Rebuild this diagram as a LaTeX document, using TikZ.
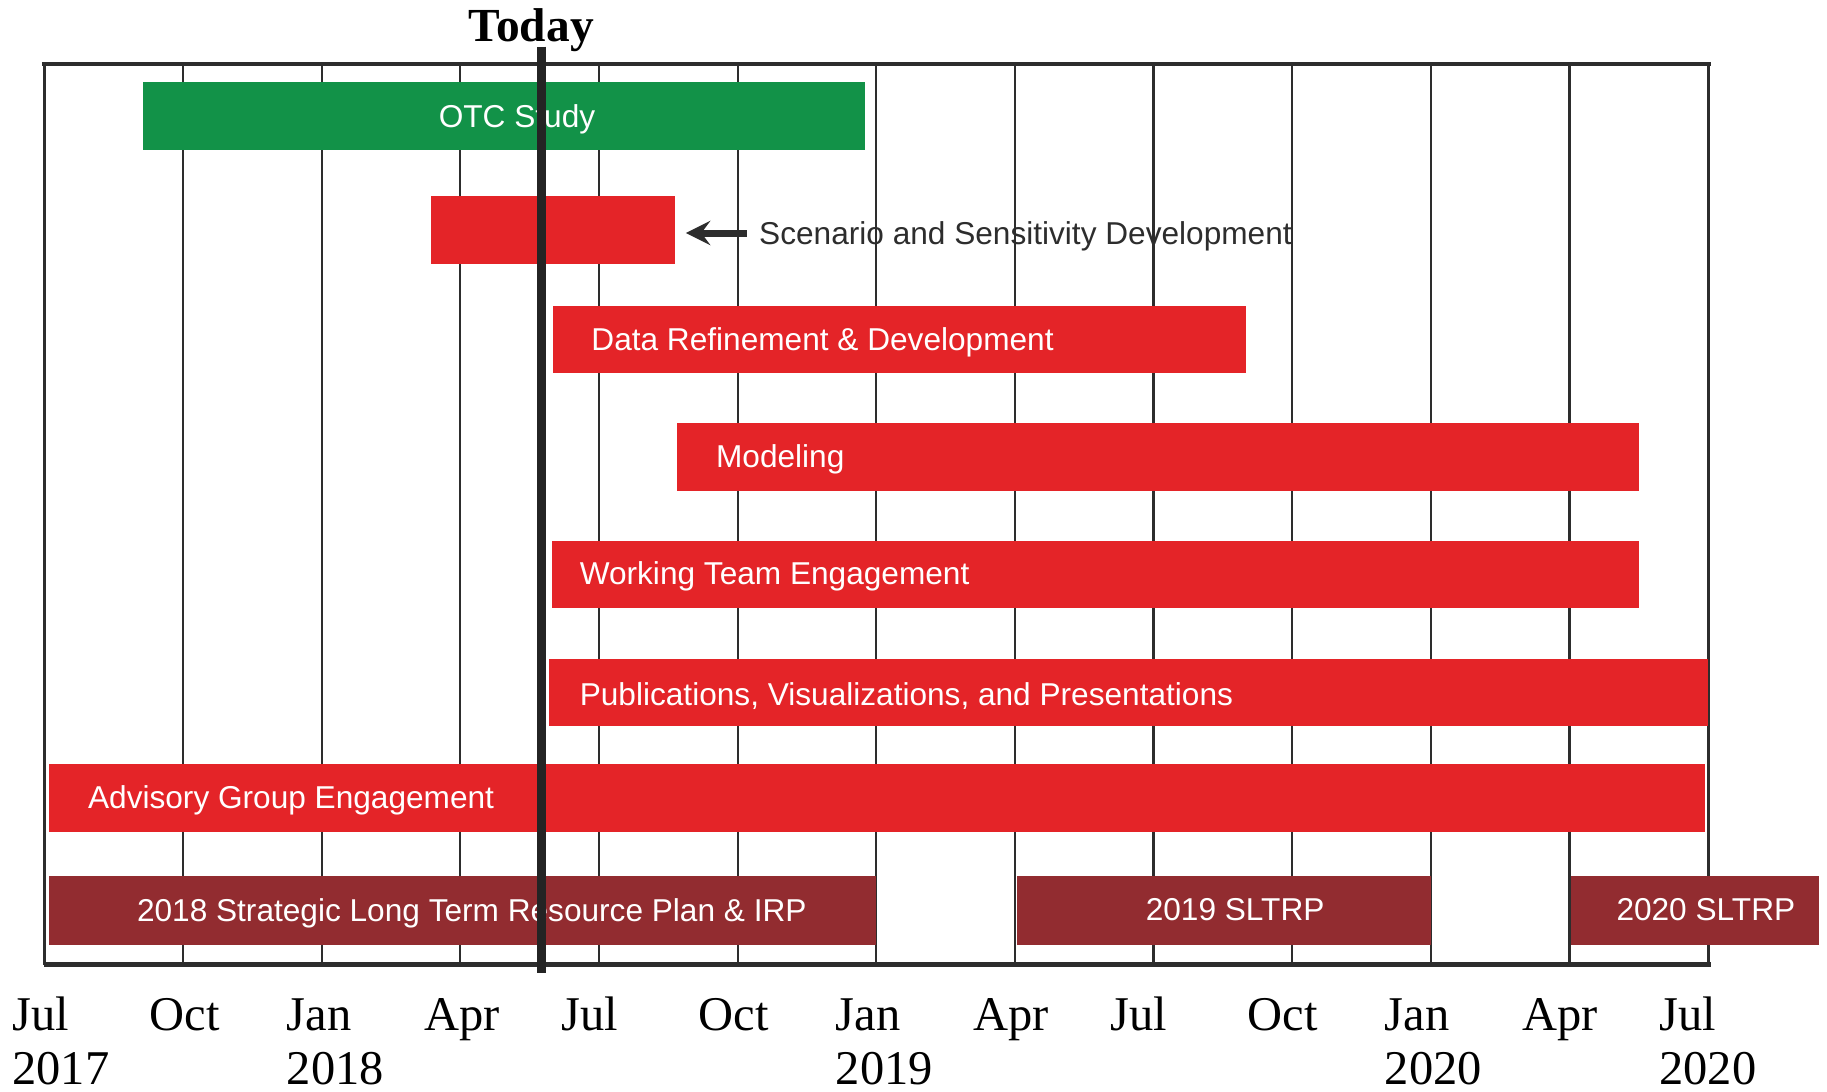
\documentclass[tikz,border=0pt]{standalone}
\usepackage{fontspec}
\setmainfont{Liberation Serif}
\newfontfamily\barfont{Liberation Sans}
\usepackage{xcolor}
\usetikzlibrary{shapes.geometric, arrows, positioning, fit}
\definecolor{otcgreen}{RGB}{18,146,72}
\definecolor{barred}{RGB}{228,36,40}
\definecolor{sltrpbrown}{RGB}{146,44,48}
\definecolor{framegrey}{RGB}{45,45,45}
\tikzstyle{bar} = [rectangle, inner sep=0pt, draw=none, fill=barred]
\tikzstyle{bartext} = [font=\barfont\fontsize{9}{11}\selectfont, text=white, inner sep=0pt, anchor=west]
\tikzstyle{gridline} = [draw=framegrey, line width=0.6pt]
\tikzstyle{axislabel} = [font=\fontsize{13.8}{16}\selectfont, inner sep=0pt, anchor=base west]
\tikzstyle{arrow} = [line width=2pt, draw=framegrey, ->, >=stealth]

\begin{document}
\begin{tikzpicture}[x=0.011652cm, y=-0.011652cm]
        \useasboundingbox (0,0) rectangle (1568,937);

        % grid and frame
        \foreach \i in {1,...,11}
            \draw [gridline] ({38+119*\i},55) -- ({38+119*\i},828);
        \draw [gridline, line width=0.8pt] (38,55) -- (38,828);
        \draw [gridline, line width=0.8pt] (1466,55) -- (1466,828);
        \draw [draw=framegrey, line width=1.1pt] (36,55) -- (1468,55);
        \draw [draw=framegrey, line width=1.3pt] (38,828) -- (1468,828);

        % Tasks
        \node (otc) [bar, fill=otcgreen, fit={(123,70) (742,129)}] {};
        \node (otctext) [bartext] at (376,102) {OTC Study};

        \node (scen) [bar, fit={(370,168) (579,227)}] {};
        \node (scentext) [bartext, text=framegrey, anchor=west] at (651,203) {Scenario and Sensitivity Development};

        \node (data) [bar, fit={(475,263) (1069,320)}] {};
        \node (datatext) [bartext] at (507,294) {Data Refinement \& Development};

        \node (model) [bar, fit={(581,363) (1407,421)}] {};
        \node (modeltext) [bartext] at (614,394) {Modeling};

        \node (team) [bar, fit={(474,464) (1407,522)}] {};
        \node (teamtext) [bartext] at (497,495) {Working Team Engagement};

        \node (pub) [bar, fit={(471,566) (1466,623)}] {};
        \node (pubtext) [bartext] at (497,597) {Publications, Visualizations, and Presentations};

        \node (adv) [bar, fit={(42,656) (1463,714)}] {};
        \node (advtext) [bartext] at (75,687) {Advisory Group Engagement};

        % Plans
        \node (irp) [bar, fill=sltrpbrown, fit={(42,752) (752,811)}] {};
        \node (irptext) [bartext] at (117,784) {2018 Strategic Long Term Resource Plan \& IRP};
        \node (slt19) [bar, fill=sltrpbrown, fit={(873,752) (1228,811)}] {};
        \node (slt19text) [bartext, anchor=center] at (1060,781) {2019 SLTRP};
        \node (slt20) [bar, fill=sltrpbrown, fit={(1348,752) (1561,811)}] {};
        \node (slt20text) [bartext, anchor=center] at (1464,781) {2020 SLTRP};

        % Arrow
        \draw [arrow] (scentext.west) ++(-10,-3) coordinate (scentip) -- ([xshift=3pt]scen.east |- scentip);

        % Today
        \coordinate (todaytop) at (465,40);
        \coordinate (todaybot) at (465,835);
        \draw [draw=framegrey!80!black, line width=2.6pt] (todaytop) -- (todaybot);
        \node (today) [font=\bfseries\fontsize{13.5}{16}\selectfont, inner sep=0pt] at (456,26) {Today};

        % Axis
        \foreach \m/\yr [count=\i from 0] in {Jul/2017, Oct/, Jan/2018, Apr/, Jul/, Oct/, Jan/2019, Apr/, Jul/, Oct/, Jan/2020, Apr/, Jul/2020} {
            \node (m\i) [axislabel] at ({10+117.8*\i},884) {\m};
            \node (y\i) [axislabel] at ({10+117.8*\i},931) {\yr};
        }

    \end{tikzpicture}
\end{document}
